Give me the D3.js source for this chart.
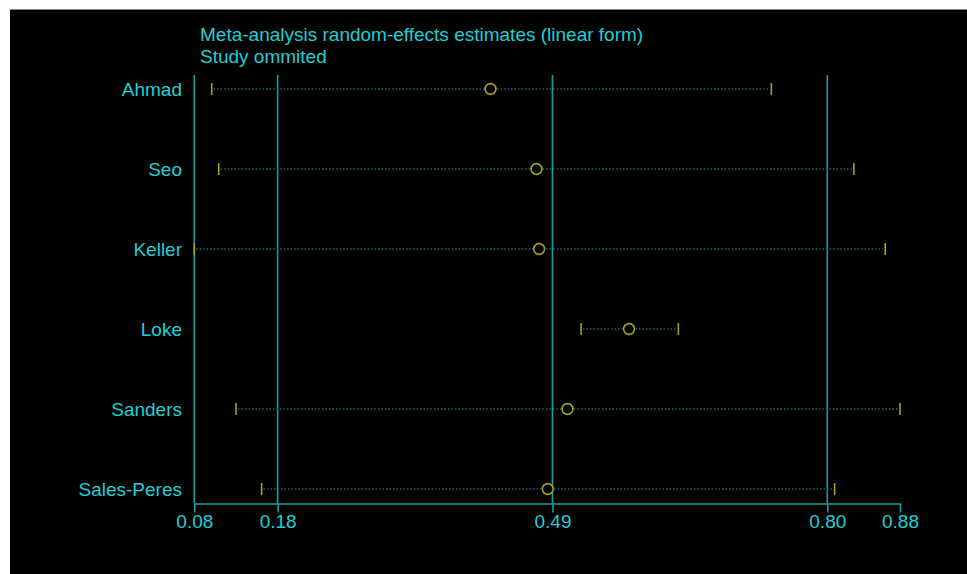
<!DOCTYPE html>
<meta charset="utf-8">
<style>
  body { margin: 0; background: #fff; }
  svg { display: block; }
  text { font-family: "Liberation Sans", Arial, sans-serif; }
</style>
<svg width="967" height="574"></svg>
<script src="https://d3js.org/d3.v7.min.js"></script>
<script>
// studies omitted, one row each
var studies = ["Ahmad", "Seo", "Keller", "Loke", "Sanders", "Sales-Peres"]
var estimate = [0.4159, 0.4679, 0.4709, 0.5727, 0.5030, 0.4807]
var lowerCI  = [0.1004, 0.1083, 0.0807, 0.5184, 0.1279, 0.1569]
var upperCI  = [0.7337, 0.8271, 0.8626, 0.6285, 0.8793, 0.8053]

// overall estimate and its CI, plus the axis ends
var refLines   = [0.1750, 0.4860, 0.7970]
var tickValues = [0.0807, 0.1750, 0.4860, 0.7970, 0.8793]
var tickLabels = ["0.08", "0.18", "0.49", "0.80", "0.88"]

var titleLines = ["Meta-analysis random-effects estimates (linear form)", "Study ommited"]

var cyan = "#1fcfd6", teal = "#1a9ea4", olive = "#a9a01e", dots = "#117a7d"

var svg = d3.select("svg")
svg.append("rect").attr("x", 10).attr("y", 10).attr("width", 957).attr("height", 564).attr("fill", "#000")
svg.append("line").attr("x1", 10).attr("x2", 967).attr("y1", 9.5).attr("y2", 9.5).attr("stroke", "#888").attr("stroke-width", 1)

var x = d3.scaleLinear().domain([0.0807, 0.8793]).range([194.3, 900])
var y = d3.scalePoint().domain(studies).range([89, 489])
var plotTop = 75, plotBottom = 503.5

// reference lines
svg.append("g").selectAll("line").data(refLines).enter().append("line")
  .attr("x1", d => x(d)).attr("x2", d => x(d))
  .attr("y1", plotTop).attr("y2", plotBottom)
  .attr("stroke", teal).attr("stroke-width", 1.6)

// left axis line
svg.append("line").attr("x1", x(0.0807)).attr("x2", x(0.0807))
  .attr("y1", plotTop).attr("y2", plotBottom)
  .attr("stroke", teal).attr("stroke-width", 1.6)

// bottom axis
var xAxis = d3.axisBottom(x).tickValues(tickValues)
  .tickFormat((d, i) => tickLabels[i]).tickSize(9).tickSizeOuter(0).tickPadding(2)
var gx = svg.append("g").attr("transform", "translate(0," + plotBottom + ")").call(xAxis)
gx.select(".domain").attr("stroke", teal).attr("stroke-width", 1.6)
gx.selectAll(".tick line").attr("stroke", teal).attr("stroke-width", 1.6)
gx.selectAll(".tick text").attr("fill", cyan).attr("font-size", 19)
  .attr("font-family", "Liberation Sans, Arial, sans-serif")

// study labels
svg.append("g").selectAll("text").data(studies).enter().append("text")
  .attr("x", 182).attr("y", d => y(d)).attr("dy", "0.35em")
  .attr("text-anchor", "end").attr("fill", cyan).attr("font-size", 19)
  .text(d => d)

// CI dotted lines
var rows = studies.map((s, i) => ({ s: s, est: estimate[i], lo: lowerCI[i], hi: upperCI[i] }))
var g = svg.append("g")
g.selectAll(".ci").data(rows).enter().append("line")
  .attr("x1", d => x(d.lo) + 2).attr("x2", d => x(d.hi) - 2)
  .attr("y1", d => y(d.s)).attr("y2", d => y(d.s))
  .attr("stroke", dots).attr("stroke-width", 1.5).attr("stroke-dasharray", "1.3,2.2")

// CI ends
g.selectAll(".lo").data(rows).enter().append("line")
  .attr("x1", d => x(d.lo)).attr("x2", d => x(d.lo))
  .attr("y1", d => y(d.s) - 6).attr("y2", d => y(d.s) + 6)
  .attr("stroke", olive).attr("stroke-width", 1.6)
g.selectAll(".hi").data(rows).enter().append("line")
  .attr("x1", d => x(d.hi)).attr("x2", d => x(d.hi))
  .attr("y1", d => y(d.s) - 6).attr("y2", d => y(d.s) + 6)
  .attr("stroke", olive).attr("stroke-width", 1.6)

// estimates
g.selectAll("circle").data(rows).enter().append("circle")
  .attr("cx", d => x(d.est)).attr("cy", d => y(d.s)).attr("r", 5.4)
  .attr("fill", "#000").attr("stroke", olive).attr("stroke-width", 1.6)

// title
svg.append("g").selectAll("text").data(titleLines).enter().append("text")
  .attr("x", 200).attr("y", (d, i) => 41 + i * 22)
  .attr("fill", cyan).attr("font-size", 19)
  .text(d => d)
</script>
